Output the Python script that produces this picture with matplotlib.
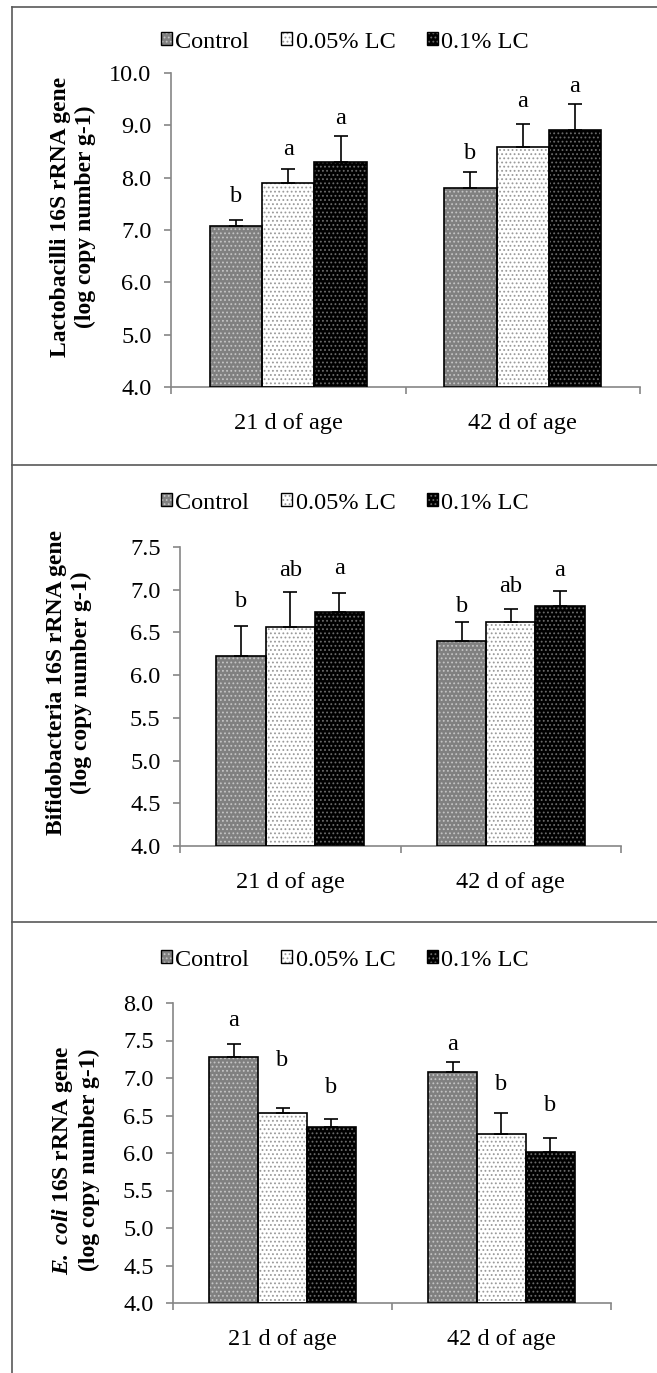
import matplotlib.pyplot as plt
from matplotlib.lines import Line2D
from matplotlib.patches import Patch
from matplotlib.legend_handler import HandlerTuple
import numpy as np

plt.rcParams['font.family'] = ['Liberation Serif', 'DejaVu Serif']
plt.rcParams['mathtext.fontset'] = 'custom'
plt.rcParams['mathtext.rm'] = 'Liberation Serif'
plt.rcParams['mathtext.it'] = 'Liberation Serif:italic'
plt.rcParams['mathtext.bf'] = 'Liberation Serif:bold'
plt.rcParams['mathtext.bfit'] = 'Liberation Serif:italic:bold'
plt.rcParams['hatch.linewidth'] = 0.8

ages = ['21 d of age', '42 d of age']
treatments = ['Control', '0.05% LC', '0.1% LC']

# values per treatment: [21 d, 42 d]
lacto_mean = [[7.08, 7.81], [7.89, 8.59], [8.29, 8.92]]
lacto_err = [[0.12, 0.29], [0.28, 0.44], [0.50, 0.49]]
lacto_letters = [['b', 'b'], ['a', 'a'], ['a', 'a']]
lacto_letter_y = [[7.64, 8.47], [8.53, 9.46], [9.14, 9.74]]

bifido_mean = [[6.22, 6.40], [6.56, 6.62], [6.74, 6.81]]
bifido_err = [[0.36, 0.22], [0.41, 0.15], [0.22, 0.18]]
bifido_letters = [['b', 'b'], ['ab', 'ab'], ['a', 'a']]
bifido_letter_y = [[6.86, 6.80], [7.23, 7.04], [7.25, 7.22]]

ecoli_mean = [[7.28, 7.08], [6.53, 6.25], [6.35, 6.01]]
ecoli_err = [[0.17, 0.13], [0.07, 0.29], [0.11, 0.19]]
ecoli_letters = [['a', 'a'], ['b', 'b'], ['b', 'b']]
ecoli_letter_y = [[7.77, 7.44], [7.24, 6.92], [6.87, 6.63]]

face_colors = ['#808080', '#ffffff', '#000000']
dot_colors = ['#c4c4c4', '#9a9a9a', '#6a6a6a']

W, H = 657, 1373
fig = plt.figure(figsize=(W / 100, H / 100), dpi=100)


def rect(x0, x1, ytop, ybot):
    return [x0 / W, 1 - ybot / H, (x1 - x0) / W, (ybot - ytop) / H]


panels = [
    dict(box=(171, 640, 73, 387), ylim=(4.0, 10.0), step=1.0, mean=lacto_mean, err=lacto_err,
         letters=lacto_letters, letter_y=lacto_letter_y, legend_y=42,
         ylabel='Lactobacilli 16S rRNA gene\n(log copy number g-1)', ylab_pos=(73, 217)),
    dict(box=(180, 621, 547, 846), ylim=(4.0, 7.5), step=0.5, mean=bifido_mean, err=bifido_err,
         letters=bifido_letters, letter_y=bifido_letter_y, legend_y=503,
         ylabel='Bifidobacteria 16S rRNA gene\n(log copy number g-1)', ylab_pos=(69, 683)),
    dict(box=(173, 611, 1003, 1303), ylim=(4.0, 8.0), step=0.5, mean=ecoli_mean, err=ecoli_err,
         letters=ecoli_letters, letter_y=ecoli_letter_y, legend_y=960,
         ylabel='$\\mathbfit{E.\\ coli}$ 16S rRNA gene\n(log copy number g-1)', ylab_pos=(75, 1160)),
]

width = 0.223
x = np.arange(len(ages))
axis_grey = '#868686'

for p in panels:
    ax = fig.add_axes(rect(*p['box']))
    for i, t in enumerate(treatments):
        xs = x + (i - 1) * width
        ax.bar(xs, np.array(p['mean'][i]) - p['ylim'][0], width, bottom=p['ylim'][0],
               color=face_colors[i], edgecolor=dot_colors[i], hatch='....', linewidth=0, zorder=2)
        ax.bar(xs, np.array(p['mean'][i]) - p['ylim'][0], width, bottom=p['ylim'][0],
               fill=False, edgecolor='black', linewidth=1.2, zorder=3)
        ax.errorbar(xs, p['mean'][i], yerr=[np.zeros(len(ages)), p['err'][i]], fmt='none',
                    ecolor='black', elinewidth=1.2, capsize=5, capthick=1.2, zorder=4)
        for j in range(len(ages)):
            ax.text(xs[j], p['letter_y'][i][j], p['letters'][i][j], ha='center', va='center',
                    fontsize=17.5, zorder=5)

    ax.set_xlim(-0.5, 1.5)
    ax.set_ylim(*p['ylim'])
    ax.set_yticks(np.arange(p['ylim'][0], p['ylim'][1] + p['step'] / 2, p['step']))
    ax.set_yticklabels(['%.1f' % v for v in ax.get_yticks()])
    ax.set_xticks([-0.5, 0.5, 1.5])
    ax.set_xticklabels([])
    ax.set_xticks(x, minor=True)
    ax.set_xticklabels(ages, minor=True)
    ax.tick_params(axis='x', which='major', length=5, color=axis_grey, width=1.2, direction='out')
    ax.tick_params(axis='x', which='minor', length=0, pad=19, labelsize=17.5)
    ax.tick_params(axis='y', length=5, color=axis_grey, width=1.2, pad=9, labelsize=17.5)
    for s in ['top', 'right']:
        ax.spines[s].set_visible(False)
    for s in ['left', 'bottom']:
        ax.spines[s].set_color(axis_grey)
        ax.spines[s].set_linewidth(1.2)
    ax.patch.set_alpha(0)

    fig.text(p['ylab_pos'][0] / W, 1 - p['ylab_pos'][1] / H, p['ylabel'], rotation=90,
             ha='center', va='center', multialignment='center', fontsize=17, fontweight='bold')

    handles = [(Patch(facecolor=face_colors[i], edgecolor=dot_colors[i], hatch='....', linewidth=0),
                Patch(fill=False, edgecolor='black', linewidth=1.0)) for i in range(3)]
    fig.legend(handles, treatments, loc='center', bbox_to_anchor=(345 / W, 1 - p['legend_y'] / H),
               ncol=3, frameon=False, fontsize=17.5, handlelength=0.45, handleheight=0.45,
               handletextpad=0.15, columnspacing=1.3, borderpad=0,
               handler_map={tuple: HandlerTuple(ndivide=1, pad=0)})

# frame lines around the panels
border = '#595959'
fig.add_artist(Line2D([12 / W, 12 / W], [0, 1 - 7 / H], transform=fig.transFigure, color=border, lw=1.2))
for yy in [7, 465, 922]:
    fig.add_artist(Line2D([12 / W, 1], [1 - yy / H, 1 - yy / H], transform=fig.transFigure,
                          color=border, lw=1.2))

fig.savefig('out.png', dpi=100)
